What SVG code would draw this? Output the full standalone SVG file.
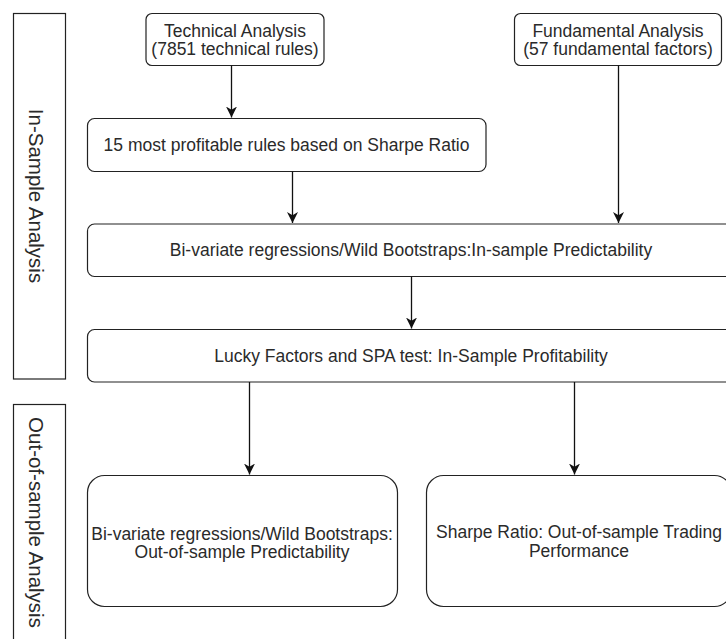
<svg xmlns="http://www.w3.org/2000/svg" width="726" height="639" viewBox="0 0 726 639">
<defs>
<style>
.box{fill:#fff;stroke:#222;stroke-width:1.2}
.lane{fill:#fff;stroke:#222;stroke-width:1.2}
.t{font-family:"Liberation Sans",Arial,sans-serif;font-size:17.5px;fill:#2a2a2a;text-anchor:middle}
.lt{font-family:"Liberation Sans",Arial,sans-serif;font-size:20.5px;fill:#2a2a2a;text-anchor:middle}
.edge{fill:none;stroke:#111;stroke-width:1.3}
</style>
<marker id="arr" viewBox="0 0 10 10" refX="10" refY="5" markerWidth="11" markerHeight="11" markerUnits="userSpaceOnUse" orient="auto">
<path d="M0,0 L10,5 L0,10 L3,5 Z" fill="#111"/>
</marker>
</defs>
<rect width="726" height="639" fill="#fff"/>

<g id="lane-in-sample">
<rect class="lane" x="13.5" y="13.5" width="52" height="365.5"/>
<text class="lt" transform="translate(29,196) rotate(90)">In-Sample Analysis</text>
</g>
<g id="lane-out-of-sample">
<rect class="lane" x="13.5" y="404.5" width="52" height="260"/>
<text class="lt" transform="translate(29,522.5) rotate(90)">Out-of-sample Analysis</text>
</g>

<g id="technical">
<rect class="box" x="146" y="13.5" width="178" height="52" rx="6"/>
<text class="t" x="235" y="36.5">Technical Analysis</text>
<text class="t" x="235" y="55">(7851 technical rules)</text>
</g>
<g id="fundamental">
<rect class="box" x="514.5" y="13.5" width="207" height="52" rx="6"/>
<text class="t" x="618" y="36.5">Fundamental Analysis</text>
<text class="t" x="618" y="55">(57 fundamental factors)</text>
</g>
<g id="top15">
<rect class="box" x="87.5" y="118.5" width="398.5" height="53" rx="7"/>
<text class="t" x="286.5" y="151">15 most profitable rules based on Sharpe Ratio</text>
</g>
<g id="insample-pred">
<rect class="box" x="87.5" y="224" width="647" height="52.5" rx="7"/>
<text class="t" x="411" y="256">Bi-variate regressions/Wild Bootstraps:In-sample Predictability</text>
</g>
<g id="insample-prof">
<rect class="box" x="87.5" y="329.5" width="647" height="52.5" rx="7"/>
<text class="t" x="411" y="362">Lucky Factors and SPA test: In-Sample Profitability</text>
</g>
<g id="oos-pred">
<rect class="box" x="87.5" y="475.5" width="310" height="131" rx="17"/>
<text class="t" x="242" y="539.5">Bi-variate regressions/Wild Bootstraps:</text>
<text class="t" x="242" y="558">Out-of-sample Predictability</text>
</g>
<g id="oos-trading">
<rect class="box" x="426.5" y="475.5" width="305" height="131" rx="17"/>
<text class="t" x="579" y="538">Sharpe Ratio: Out-of-sample Trading</text>
<text class="t" x="579" y="556.5">Performance</text>
</g>

<g id="connectors">
<line class="edge" x1="231.5" y1="65.5" x2="231.5" y2="117.5" marker-end="url(#arr)"/>
<line class="edge" x1="292.5" y1="171.5" x2="292.5" y2="223" marker-end="url(#arr)"/>
<line class="edge" x1="618.5" y1="65.5" x2="618.5" y2="223" marker-end="url(#arr)"/>
<line class="edge" x1="411.5" y1="276.5" x2="411.5" y2="328.5" marker-end="url(#arr)"/>
<line class="edge" x1="249.5" y1="382" x2="249.5" y2="474.5" marker-end="url(#arr)"/>
<line class="edge" x1="574.5" y1="382" x2="574.5" y2="474.5" marker-end="url(#arr)"/>
</g>
</svg>
